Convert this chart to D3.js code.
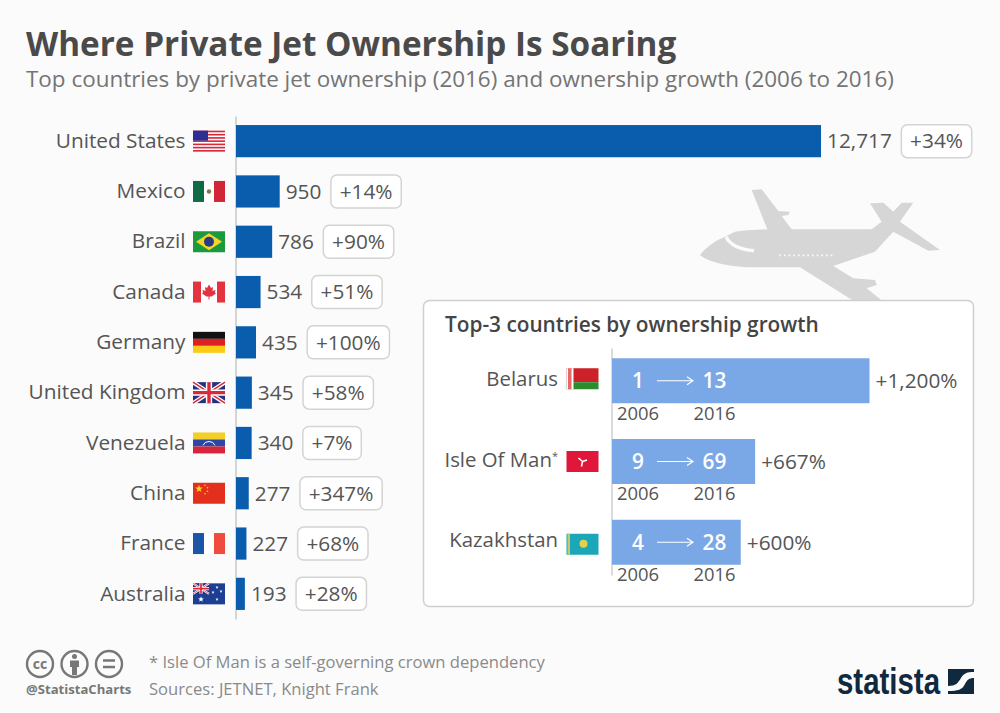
<!DOCTYPE html>
<html>
<head>
<meta charset="utf-8">
<script src="https://cdnjs.cloudflare.com/ajax/libs/d3/7.8.5/d3.min.js"></script>
<style>
html, body { margin: 0; padding: 0; background: #fbfbfb; }
svg { display: block; }
text { font-family: "Open Sans", sans-serif; }
</style>
</head>
<body>
<script>
// main chart data
const countries = ["United States", "Mexico", "Brazil", "Canada", "Germany", "United Kingdom", "Venezuela", "China", "France", "Australia"];
const jets = [12717, 950, 786, 534, 435, 345, 340, 277, 227, 193];
const growth = [34, 14, 90, 51, 100, 58, 7, 347, 68, 28];

// inset data
const topCountries = ["Belarus", "Isle Of Man", "Kazakhstan"];
const jets2006 = [1, 9, 4];
const jets2016 = [13, 69, 28];
const topGrowth = [1200, 667, 600];
const years = ["2006", "2016"];

const svg = d3.select("body").append("svg")
	.attr("width", 1000)
	.attr("height", 713);

svg.append("rect").attr("width", 1000).attr("height", 713).attr("fill", "#fbfbfb");

// title
svg.append("text").attr("x", 26).attr("y", 56)
	.attr("font-size", 33.3).attr("font-weight", 700).attr("fill", "#4a4a4a")
	.text("Where Private Jet Ownership Is Soaring");
svg.append("text").attr("x", 26).attr("y", 87)
	.attr("font-size", 22.45).attr("fill", "#747474")
	.text("Top countries by private jet ownership (2016) and ownership growth (2006 to 2016)");

// plane silhouette, sits behind the panel
const plane = svg.append("g").attr("transform", "translate(690,180) scale(0.3333)");
plane.append("path")
	.attr("fill", "#d6d6d6")
	.attr("d", "M30,225 C48,200 80,180 105,170 L135,155 C180,148 250,148 305,148 L275,108 L295,105 L300,95 L265,93 L215,28 L185,30 L232,148 L545,148 L575,125 L540,70 L580,68 L610,95 L635,68 L670,68 L630,125 L750,210 L715,212 L610,155 L555,215 L430,258 L490,295 L555,300 L560,315 L530,325 L580,365 L495,365 L330,262 L200,262 C130,262 60,250 30,225 Z");
plane.append("path")
	.attr("fill", "none").attr("stroke", "#fbfbfb").attr("stroke-width", 10)
	.attr("d", "M108,170 C120,195 150,208 192,212");
plane.append("line")
	.attr("x1", 268).attr("x2", 430).attr("y1", 226).attr("y2", 226)
	.attr("stroke", "#fbfbfb").attr("stroke-width", 5).attr("stroke-dasharray", "5 9");

// main scales
const x = d3.scaleLinear().domain([0, 12717]).range([236, 821]);
const y = d3.scaleBand().domain(countries).range([116, 619]).paddingInner(0.36).paddingOuter(0.18);

const yAxis = svg.append("g")
	.attr("transform", "translate(235.5,0)")
	.call(d3.axisLeft(y).tickSize(0).tickPadding(50));
yAxis.select(".domain").attr("stroke", "#c9c9c9").attr("stroke-width", 1.5);
yAxis.selectAll("text")
	.attr("font-size", 20.8).attr("fill", "#555").style("font-family", '"Open Sans", sans-serif');

svg.selectAll(".bar").data(countries).enter().append("rect")
	.attr("class", "bar")
	.attr("x", x(0))
	.attr("y", d => y(d))
	.attr("width", (d, i) => x(jets[i]) - x(0))
	.attr("height", y.bandwidth())
	.attr("fill", "#0a5cad");

const fmt = d3.format(",");

// value + growth pill on each row
countries.forEach((c, i) => {
	let cy = y(c) + y.bandwidth() / 2;
	let val = svg.append("text")
		.attr("x", x(jets[i]) + 6).attr("y", cy).attr("dy", "0.35em")
		.attr("font-size", 20.8).attr("fill", "#555")
		.text(fmt(jets[i]));
	let left = x(jets[i]) + 6 + val.node().getComputedTextLength() + 9.5;
	let pill = svg.append("text")
		.attr("y", cy).attr("dy", "0.35em")
		.attr("font-size", 20.8).attr("fill", "#555").attr("text-anchor", "middle")
		.text("+" + growth[i] + "%");
	let w = pill.node().getComputedTextLength() + 17.5;
	pill.attr("x", left + w / 2);
	svg.insert("rect", () => pill.node())
		.attr("x", left).attr("y", cy - 16.5)
		.attr("width", w).attr("height", 33).attr("rx", 6)
		.attr("fill", "#fff").attr("stroke", "#d4d4d4").attr("stroke-width", 1.5);
});

// flags, all drawn in a 32x21 box
function box(g, x0, y0, w, h, fill) {
	g.append("rect").attr("x", x0).attr("y", y0).attr("width", w).attr("height", h).attr("fill", fill);
}
function star(g, cx, cy, r, fill) {
	let pts = d3.range(10).map(k => {
		let a = -Math.PI / 2 + k * Math.PI / 5, rr = k % 2 ? r * 0.42 : r;
		return [cx + rr * Math.cos(a), cy + rr * Math.sin(a)];
	});
	g.append("polygon").attr("points", pts.join(" ")).attr("fill", fill);
}
function union(g, w, h) {
	box(g, 0, 0, w, h, "#26307e");
	let l = (d, col, sw) => g.append("path").attr("d", d).attr("stroke", col).attr("stroke-width", sw).attr("fill", "none");
	l(`M0,0L${w},${h}M${w},0L0,${h}`, "#fff", h * 0.2);
	l(`M0,0L${w},${h}M${w},0L0,${h}`, "#d8283a", h * 0.07);
	l(`M${w / 2},0V${h}M0,${h / 2}H${w}`, "#fff", h * 0.3);
	l(`M${w / 2},0V${h}M0,${h / 2}H${w}`, "#d8283a", h * 0.16);
}
const flags = {
	"United States": g => {
		box(g, 0, 0, 32, 21, "#fff");
		d3.range(7).forEach(k => box(g, 0, k * 3.23, 32, 1.62, "#d8283a"));
		box(g, 0, 0, 15, 10, "#2b2f96");
	},
	"Mexico": g => {
		box(g, 0, 0, 11, 21, "#0f6b45"); box(g, 11, 0, 10, 21, "#fff"); box(g, 21, 0, 11, 21, "#d02638");
		g.append("circle").attr("cx", 16).attr("cy", 10.5).attr("r", 2.2).attr("fill", "#7b7a4a");
	},
	"Brazil": g => {
		box(g, 0, 0, 32, 21, "#1a9a3c");
		g.append("polygon").attr("points", "16,2 29,10.5 16,19 3,10.5").attr("fill", "#f5d327");
		g.append("circle").attr("cx", 16).attr("cy", 10.5).attr("r", 5).attr("fill", "#263a86");
	},
	"Canada": g => {
		box(g, 0, 0, 8, 21, "#e5323f"); box(g, 8, 0, 16, 21, "#fff"); box(g, 24, 0, 8, 21, "#e5323f");
		g.append("path").attr("fill", "#e5323f")
			.attr("d", "M16,3 L18,6.5 L20,5.5 L19.5,9.5 L22.5,8.5 L22,11 L23,12 L18.5,15 L16.5,15 V18 H15.5 V15 L13.5,15 L9,12 L10,11 L9.5,8.5 L12.5,9.5 L12,5.5 L14,6.5 Z");
	},
	"Germany": g => {
		box(g, 0, 0, 32, 7, "#111"); box(g, 0, 7, 32, 7, "#dd1f26"); box(g, 0, 14, 32, 7, "#fbcb16");
	},
	"United Kingdom": g => union(g, 32, 21),
	"Venezuela": g => {
		box(g, 0, 0, 32, 7, "#f4cf2a"); box(g, 0, 7, 32, 7, "#2a46a8"); box(g, 0, 14, 32, 7, "#d5263c");
		g.append("path").attr("d", "M10,13 A6.5,6.5 0 0 1 22,13").attr("fill", "none").attr("stroke", "#fff").attr("stroke-width", 1);
	},
	"China": g => {
		box(g, 0, 0, 32, 21, "#e2301c");
		star(g, 6, 6, 4, "#f8d21c");
		[[12, 2.5], [14.5, 5], [14.5, 8.5], [12, 11]].forEach(p => star(g, p[0], p[1], 1.2, "#f8d21c"));
	},
	"France": g => {
		box(g, 0, 0, 11, 21, "#1a55a6"); box(g, 11, 0, 10, 21, "#fff"); box(g, 21, 0, 11, 21, "#ef4b3e");
	},
	"Australia": g => {
		box(g, 0, 0, 32, 21, "#1c3f94");
		let u = g.append("g");
		union(u, 16, 10.5);
		star(g, 8, 16, 3, "#fff");
		[[24, 4], [24, 16], [20, 9], [28, 8]].forEach(p => star(g, p[0], p[1], 1.6, "#fff"));
	},
	"Belarus": g => {
		box(g, 0, 0, 32, 14, "#cb2128"); box(g, 0, 14, 32, 7, "#2a8c2f"); box(g, 0, 0, 7, 21, "#fff");
		box(g, 1.5, 0, 3.5, 21, "#e46a6a");
	},
	"Isle Of Man": g => {
		box(g, 0, 0, 32, 21, "#e0163a");
		g.append("path").attr("d", "M16,10.5L12,7M16,10.5L20.5,9M16,10.5L15,15.5").attr("stroke", "#fff").attr("stroke-width", 1.6).attr("fill", "none");
	},
	"Kazakhstan": g => {
		box(g, 0, 0, 32, 21, "#1ba7b8");
		box(g, 1, 0, 2.5, 21, "#c9c96a");
		g.append("circle").attr("cx", 17).attr("cy", 10).attr("r", 4).attr("fill", "#e6d04a");
	}
};

countries.forEach(c => {
	let g = svg.append("g").attr("transform", `translate(193,${y(c) + y.bandwidth() / 2 - 10.5})`);
	flags[c](g);
});

// inset panel
svg.append("rect")
	.attr("x", 423.5).attr("y", 300.5).attr("width", 550).attr("height", 306).attr("rx", 6)
	.attr("fill", "#fff").attr("stroke", "#cfcfcf").attr("stroke-width", 1.5);
svg.append("text").attr("x", 445).attr("y", 332)
	.attr("font-size", 20.8).attr("font-weight", 600).attr("fill", "#444")
	.text("Top-3 countries by ownership growth");

const x2 = d3.scaleLinear().domain([0, 1200]).range([612, 869.5]);
const y2 = d3.scaleBand().domain(topCountries).range([348, 575]).paddingInner(0.443).paddingOuter(0.127);
// the two year columns inside the bars
const yearX = d3.scalePoint().domain(years).range([638, 714.5]);

const y2Axis = svg.append("g")
	.attr("transform", "translate(611.5,0)")
	.call(d3.axisLeft(y2).tickSize(0).tickPadding(0));
y2Axis.select(".domain").attr("stroke", "#cfcfcf").attr("stroke-width", 1.5);
y2Axis.selectAll("text").remove();

topCountries.forEach((c, i) => {
	let top = y2(c), h = y2.bandwidth(), cy = top + h / 2;
	svg.append("rect")
		.attr("x", x2(0)).attr("y", top)
		.attr("width", x2(topGrowth[i]) - x2(0)).attr("height", h)
		.attr("fill", "#7aa8e6");
	svg.append("text")
		.attr("x", 558).attr("y", cy - 2).attr("dy", "0.35em")
		.attr("font-size", 20.4).attr("fill", "#555").attr("text-anchor", "end")
		.text(c)
		.call(t => { if (c === "Isle Of Man") t.append("tspan").attr("font-size", 11).attr("dy", "-0.6em").text("*"); });
	let g = svg.append("g").attr("transform", `translate(566.5,${cy - 12.5 + (i * 2)})`);
	flags[c](g);
	[jets2006[i], jets2016[i]].forEach((v, k) => {
		svg.append("text")
			.attr("x", yearX(years[k])).attr("y", cy).attr("dy", "0.35em")
			.attr("font-size", 20.8).attr("font-weight", 600).attr("fill", "#fff").attr("text-anchor", "middle")
			.text(v);
		svg.append("text")
			.attr("x", yearX(years[k])).attr("y", top + h + 10).attr("dy", "0.35em")
			.attr("font-size", 18.4).attr("fill", "#555").attr("text-anchor", "middle")
			.text(years[k]);
	});
	svg.append("path")
		.attr("d", `M657,${cy}H693M687,${cy - 4}L693,${cy}L687,${cy + 4}`)
		.attr("fill", "none").attr("stroke", "#fff").attr("stroke-width", 1.2);
	svg.append("text")
		.attr("x", x2(topGrowth[i]) + 6).attr("y", cy).attr("dy", "0.35em")
		.attr("font-size", 20.8).attr("fill", "#555")
		.text("+" + fmt(topGrowth[i]) + "%");
});

// footer
const cc = svg.append("g").attr("fill", "none").attr("stroke", "#777").attr("stroke-width", 2.4);
[40, 74.5, 109].forEach(cx => cc.append("circle").attr("cx", cx).attr("cy", 664).attr("r", 13));
svg.append("text").attr("x", 40).attr("y", 669).attr("text-anchor", "middle")
	.attr("font-size", 14).attr("font-weight", 700).attr("fill", "#777").text("cc");
svg.append("circle").attr("cx", 74.5).attr("cy", 656.5).attr("r", 2.5).attr("fill", "#777");
svg.append("path").attr("fill", "#777").attr("d", "M70,660.5H79V667H77V675H72V667H70Z");
svg.append("path").attr("stroke", "#777").attr("stroke-width", 2.5).attr("d", "M103,660.5H115M103,667H115");
svg.append("text").attr("x", 26).attr("y", 694)
	.attr("font-size", 13.1).attr("font-weight", 700).attr("fill", "#777").text("@StatistaCharts");
svg.append("text").attr("x", 149).attr("y", 668)
	.attr("font-size", 16.6).attr("fill", "#8a8a8a").text("* Isle Of Man is a self-governing crown dependency");
svg.append("text").attr("x", 149).attr("y", 695)
	.attr("font-size", 16.6).attr("fill", "#8a8a8a").text("Sources: JETNET, Knight Frank");

// statista logo
svg.append("text").attr("x", 837).attr("y", 694)
	.style("font-family", '"Liberation Sans", sans-serif')
	.attr("font-size", 36).attr("font-weight", 700).attr("fill", "#10293f")
	.attr("textLength", 103).attr("lengthAdjust", "spacingAndGlyphs")
	.text("statista");
svg.append("rect").attr("x", 948).attr("y", 669).attr("width", 26).attr("height", 25).attr("fill", "#10293f");
svg.append("path").attr("fill", "#fbfbfb")
	.attr("d", "M948,686 C956,686 958,683 961,678 C964,673 967,672 974,672 V678 C969,678 967,680 965,684 C962,690 958,691 948,691 Z");
</script>
</body>
</html>
